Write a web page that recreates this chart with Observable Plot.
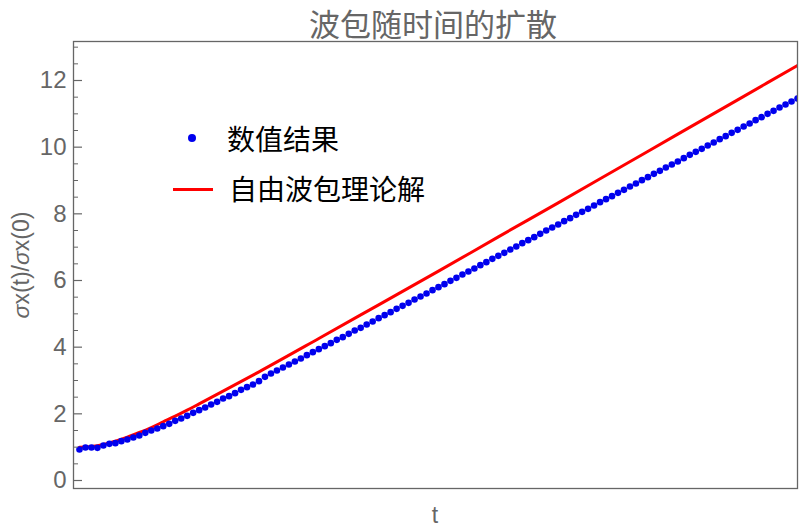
<!DOCTYPE html>
<html><head><meta charset="utf-8">
<script src="https://cdn.jsdelivr.net/npm/d3@7"></script>
<script src="https://cdn.jsdelivr.net/npm/@observablehq/plot@0.6"></script>
<style>
body{margin:0;background:#fff;}
#wrap{position:relative;width:800px;height:532px;}
.leg{position:absolute;font:28px/32px "Noto Sans CJK SC",sans-serif;color:#000;white-space:nowrap;}
</style></head>
<body>
<div id="wrap">
<div id="chart"></div>
<div id="legend"></div>
</div>
<script>
// numerical result: sigma_x(t)/sigma_x(0), evenly spaced time samples (index 0..120)
const numValues = [
0.93,0.99,0.99,0.98,1.05,1.10,1.12,1.18,1.23,1.29,1.35,1.43,1.50,1.56,1.63,1.70,1.79,1.86,1.94,2.03,
2.11,2.19,2.28,2.36,2.46,2.53,2.62,2.72,2.80,2.88,2.98,
3.11,3.21,3.30,3.39,3.48,3.57,3.66,3.76,3.85,3.94,
4.03,4.12,4.22,4.30,4.40,4.50,4.58,4.68,4.77,4.87,
4.96,5.05,5.15,5.24,5.33,5.43,5.52,5.61,5.71,5.80,
5.89,5.99,6.08,6.18,6.27,6.36,6.46,6.55,6.65,6.74,
6.83,6.93,7.02,7.12,7.21,7.30,7.40,7.50,7.59,7.68,
7.78,7.87,7.97,8.06,8.15,8.25,8.35,8.44,8.53,8.63,
8.72,8.82,8.91,9.01,9.10,9.20,9.29,9.39,9.48,9.57,
9.67,9.77,9.86,9.95,10.05,10.14,10.24,10.33,10.43,10.52,
10.62,10.71,10.81,10.90,11.00,11.09,11.19,11.28,11.37,11.46
];
// free wave packet theory curve
const theoryT = [0,2,4,6,8,10,12,14,16,18,20,24,30,40,50,60,70,80,90,100,110,120];
const theoryV = [1.00,1.02,1.08,1.18,1.30,1.44,1.59,1.76,1.93,2.11,2.30,2.68,3.26,4.26,5.27,6.28,7.31,8.33,9.36,10.39,11.42,12.45];
const yTicks = [0,2,4,6,8,10,12];
const yMinor = [0.5,1,1.5,2.5,3,3.5,4.5,5,5.5,6.5,7,7.5,8.5,9,9.5,10.5,11,11.5,12.5,13];
const seriesNames = ["数值结果","自由波包理论解"];
const titleText = "波包随时间的扩散";
const yLabel = "σx(t)/σx(0)";
const xLabel = "t";

const numData = numValues.map((v,i)=>({t:i, v}));
const theoryData = theoryT.map((t,i)=>({t, v: theoryV[i]}));

const gray = "#666";
const plot = Plot.plot({
  width: 800, height: 532,
  marginLeft: 73, marginRight: 3, marginTop: 41, marginBottom: 44,
  style: {fontFamily: '"Liberation Sans", Arial, sans-serif', background: "transparent"},
  x: {domain: [-1, 120], axis: null},
  y: {domain: [-0.24, 13.17]},
  marks: [
    Plot.line(theoryData, {x:"t", y:"v", stroke:"#f00", strokeWidth:3, curve:"monotone-x", clip:true}),
    Plot.dot(numData, {x:"t", y:"v", r:3.3, fill:"#0000ee", stroke:"none", clip:true}),
    Plot.axisY(yTicks, {tickSize:0, tickPadding:7, fontSize:24, color:gray, label:null}),
    Plot.axisY(yTicks, {tickSize:-9, tickFormat:()=>"", stroke:gray, strokeWidth:1.2, label:null}),
    Plot.axisY(yMinor, {tickSize:-5, tickFormat:()=>"", stroke:gray, strokeWidth:1, label:null}),
    Plot.frame({stroke:gray, strokeWidth:1.3})
  ]
});
document.getElementById("chart").appendChild(plot);

const svg = d3.select(plot);
// title
svg.append("text").attr("x",433).attr("y",36)
  .attr("text-anchor","middle")
  .attr("font-size",31).attr("fill",gray)
  .attr("font-family",'"Noto Sans CJK SC", sans-serif').text(titleText);
// y label with italic sigma
const yl = svg.append("text")
  .attr("transform","translate(21,265) rotate(-90)")
  .attr("text-anchor","middle").attr("dominant-baseline","central")
  .attr("font-size",23).attr("fill",gray)
  .attr("font-family",'"Liberation Sans", Arial, sans-serif');
yLabel.split(/(σ)/).filter(s=>s).forEach(s=>{
  yl.append("tspan").attr("font-style", s==="σ"?"italic":null).text(s);
});
svg.append("text").attr("x",435).attr("y",515)
  .attr("text-anchor","middle").attr("dominant-baseline","central")
  .attr("font-size",23).attr("fill",gray)
  .attr("font-family",'"Liberation Sans", Arial, sans-serif').text(xLabel);

// legend
const leg = document.getElementById("legend");
leg.innerHTML = `
<div style="position:absolute;left:188px;top:134px;width:8px;height:8px;border-radius:50%;background:#0000ee"></div>
<div class="leg" style="left:227px;top:122px">${seriesNames[0]}</div>
<div style="position:absolute;left:173px;top:187.5px;width:40px;height:3px;background:#f00"></div>
<div class="leg" style="left:229px;top:172px">${seriesNames[1]}</div>`;
</script>
</body></html>
